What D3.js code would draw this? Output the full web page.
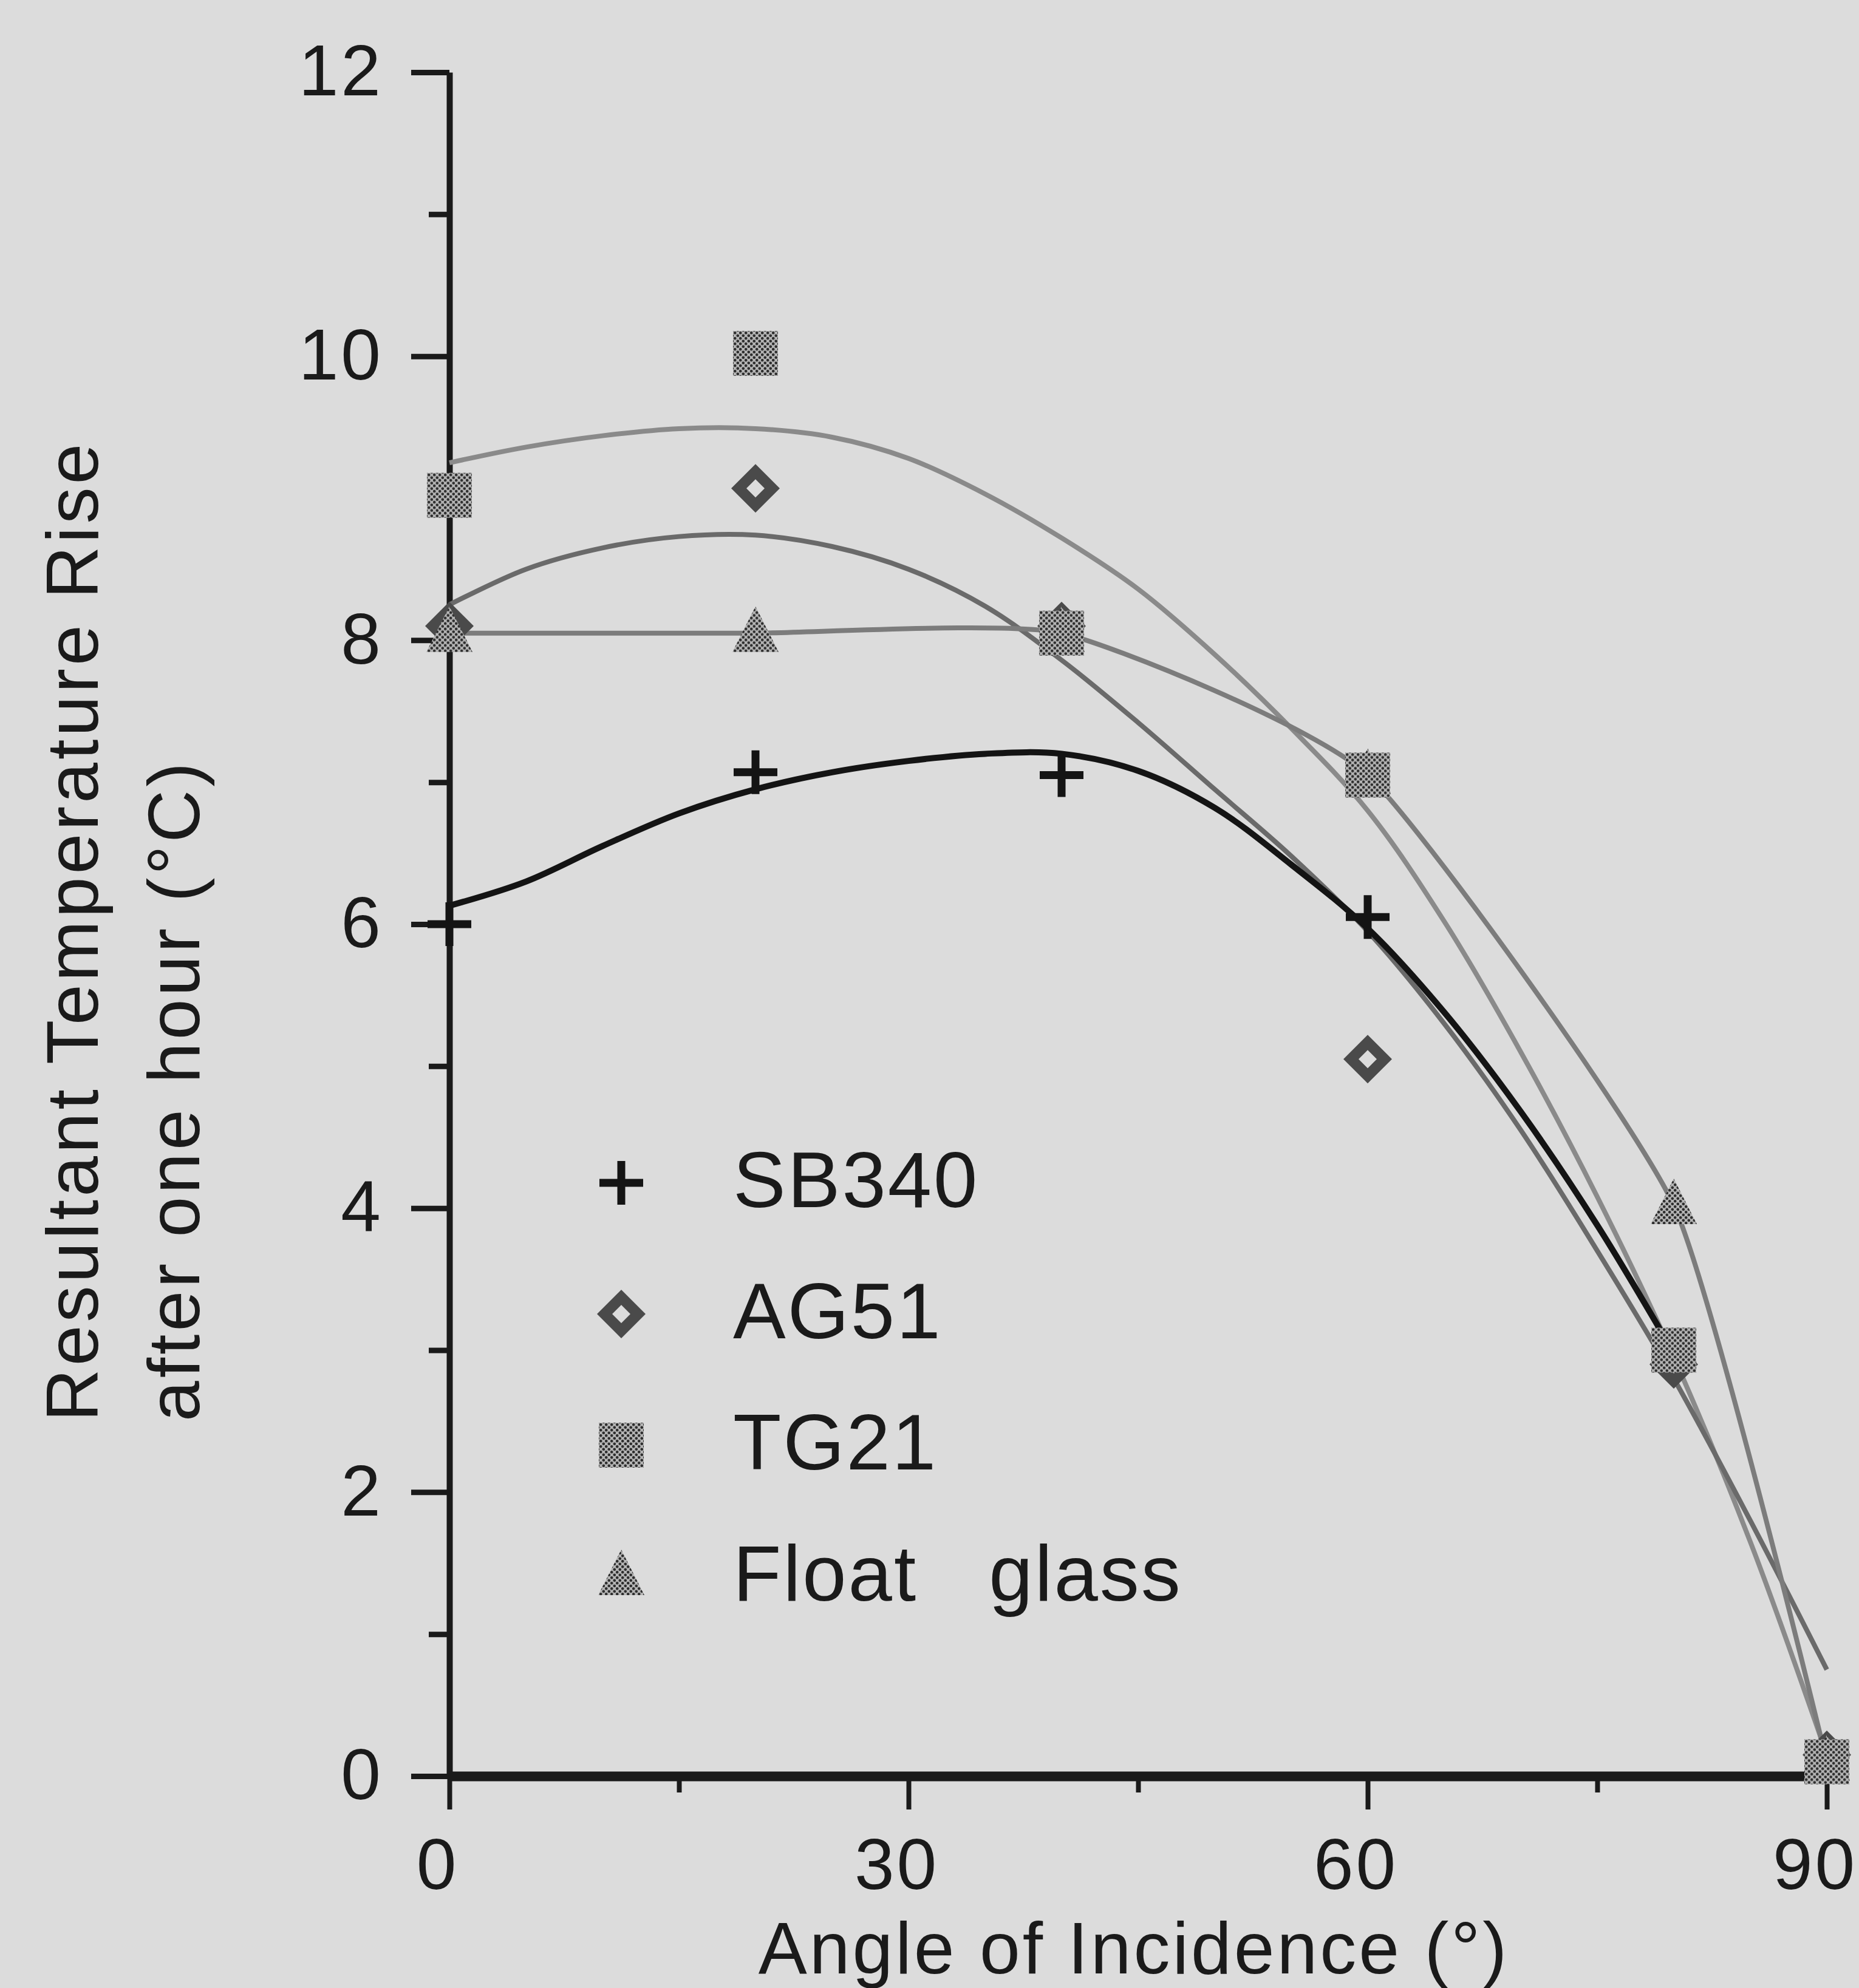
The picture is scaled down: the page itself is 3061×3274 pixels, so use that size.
<!DOCTYPE html>
<html lang="en">

<head>
  <meta charset="UTF-8">
  <title>Resultant Temperature Rise vs Angle of Incidence</title>
  <script src="https://d3js.org/d3.v7.min.js"></script>
  <style>
    body {
      margin: 0;
      background: #dcdcdc;
    }

    svg {
      display: block;
      font-family: Helvetica, Arial, "Liberation Sans", sans-serif;
    }

    .axis .tick text {
      font-size: 118px;
      letter-spacing: 4px;
    }

    .title {
      font-size: 120px;
      fill: #1a1a1a;
    }

    .legend text {
      font-size: 130px;
      letter-spacing: 3px;
      fill: #1a1a1a;
      white-space: pre;
    }
  </style>
</head>

<body>
  <div id="chart"></div>

  <script>
    // Measured points (angle in degrees, rise in °C)
    const angles = [0, 20, 40, 60, 80, 90];
    const sb340 = [6.0, 7.07, 7.05, 6.05, 3.0, null];
    const ag51 = [8.1, 9.07, 8.1, 5.05, 2.9, 0.15];
    const tg21 = [9.02, 10.02, 8.05, 7.05, 3.0, 0.1];
    const floatGlass = [8.05, 8.05, 8.05, 7.05, 4.02, 0.1];

    // Fitted curves every 5 degrees
    const fitAngles = [0, 5, 10, 15, 20, 25, 30, 35, 40, 45, 50, 55, 60, 65, 70, 75, 80, 85, 90];
    const sb340Fit = [6.13, 6.3, 6.55, 6.78, 6.95, 7.07, 7.15, 7.2, 7.2, 7.08, 6.82, 6.42, 5.97, 5.38, 4.68, 3.88, 2.98];
    const ag51Fit = [8.25, 8.5, 8.65, 8.73, 8.74, 8.66, 8.5, 8.24, 7.86, 7.42, 6.95, 6.48, 5.95, 5.3, 4.55, 3.7, 2.8, 1.8, 0.75];
    const tg21Fit = [9.25, 9.36, 9.44, 9.49, 9.49, 9.43, 9.28, 9.03, 8.72, 8.36, 7.9, 7.38, 6.8, 6.02, 5.1, 4.08, 2.95, 1.65, 0.15];

    const xTicks = [0, 15, 30, 45, 60, 75, 90];
    const yTicks = d3.range(0, 13, 1);
    const legendNames = ["SB340", "AG51", "TG21", "Float   glass"];

    const width = 3061;
    const height = 3274;

    const svg = d3.select("#chart")
      .append("svg")
      .attr("width", width)
      .attr("height", height);

    // dithered fill like the scanned markers
    const defs = svg.append("defs");
    const pat = defs.append("pattern")
      .attr("id", "dots")
      .attr("patternUnits", "userSpaceOnUse")
      .attr("width", 9)
      .attr("height", 9);
    pat.append("rect").attr("width", 9).attr("height", 9).attr("fill", "#b4b4b4");
    pat.append("circle").attr("cx", 2.25).attr("cy", 2.25).attr("r", 2.3).attr("fill", "#2e2e2e");
    pat.append("circle").attr("cx", 6.75).attr("cy", 6.75).attr("r", 2.3).attr("fill", "#2e2e2e");

    const x = d3.scaleLinear().domain([0, 90]).range([740, 3008]);
    const y = d3.scaleLinear().domain([0, 12]).range([2925, 119]);

    // Axes
    const yAxis = svg.append("g")
      .attr("class", "axis")
      .attr("transform", `translate(${x(0)},0)`)
      .call(d3.axisLeft(y)
        .tickValues(yTicks)
        .tickSize(63)
        .tickSizeOuter(0)
        .tickPadding(46)
        .tickFormat(d => d % 2 === 0 ? d : ""));
    yAxis.style("color", "#1a1a1a");
    yAxis.select(".domain").attr("stroke-width", 10);
    yAxis.selectAll(".tick line")
      .attr("stroke-width", 9)
      .attr("x2", d => d % 2 === 0 ? -63 : -34);

    const xAxis = svg.append("g")
      .attr("class", "axis")
      .attr("transform", `translate(0,${y(0)})`)
      .call(d3.axisBottom(x)
        .tickValues(xTicks)
        .tickSize(55)
        .tickSizeOuter(0)
        .tickPadding(47)
        .tickFormat(d => d % 30 === 0 ? d : ""));
    xAxis.style("color", "#1a1a1a");
    xAxis.select(".domain").attr("stroke-width", 16);
    xAxis.selectAll(".tick line")
      .attr("stroke-width", 8)
      .attr("y2", d => d % 30 === 0 ? 55 : 27);
    xAxis.selectAll(".tick text").attr("dx", -20);

    // Axis titles
    svg.append("text")
      .attr("class", "title")
      .attr("x", 1867)
      .attr("y", 3250)
      .attr("text-anchor", "middle")
      .style("letter-spacing", "4px")
      .text("Angle of Incidence (°)");

    svg.append("text")
      .attr("class", "title")
      .attr("transform", "translate(161,2341) rotate(-90)")
      .style("letter-spacing", "5px")
      .text("Resultant Temperature Rise");

    svg.append("text")
      .attr("class", "title")
      .attr("transform", "translate(328,2341) rotate(-90)")
      .style("letter-spacing", "5px")
      .text("after one hour (°C)");

    // Curves
    const fitLine = d3.line()
      .x((d, i) => x(fitAngles[i]))
      .y(d => y(d))
      .curve(d3.curveCatmullRom);

    const pointLine = d3.line()
      .x((d, i) => x(angles[i]))
      .y(d => y(d))
      .curve(d3.curveCardinal.tension(0.5));

    svg.append("path")
      .attr("d", fitLine(tg21Fit))
      .attr("fill", "none")
      .attr("stroke", "#8a8a8a")
      .attr("stroke-width", 8);

    svg.append("path")
      .attr("d", fitLine(ag51Fit))
      .attr("fill", "none")
      .attr("stroke", "#6a6a6a")
      .attr("stroke-width", 8);

    svg.append("path")
      .attr("d", pointLine(floatGlass))
      .attr("fill", "none")
      .attr("stroke", "#7c7c7c")
      .attr("stroke-width", 8);

    svg.append("path")
      .attr("d", fitLine(sb340Fit))
      .attr("fill", "none")
      .attr("stroke", "#141414")
      .attr("stroke-width", 10);

    // Marker shapes
    const shapes = {
      plus: "M-36,0H36M0,-36V36",
      diamond: "M0,-40L40,0L0,40L-40,0ZM0,-15L-15,0L0,15L15,0Z",
      square: "M-37,-37H37V37H-37Z",
      triangle: "M0,-44L38,31L-38,31Z"
    };

    function drawShape(g, shape) {
      const p = g.append("path").attr("d", shapes[shape]);
      if (shape === "plus") {
        p.attr("fill", "none").attr("stroke", "#141414").attr("stroke-width", 13);
      } else if (shape === "diamond") {
        p.attr("fill", "#4a4a4a").attr("fill-rule", "evenodd");
      } else {
        p.attr("fill", "url(#dots)");
      }
    }

    const seriesList = [
      { values: sb340, shape: "plus" },
      { values: ag51, shape: "diamond" },
      { values: tg21, shape: "square" },
      { values: floatGlass, shape: "triangle" }
    ];

    seriesList.forEach(s => {
      const pts = s.values
        .map((v, i) => ({ a: angles[i], v: v }))
        .filter(d => d.v !== null);
      pts.forEach(d => {
        const g = svg.append("g")
          .attr("transform", `translate(${x(d.a)},${y(d.v)})`);
        drawShape(g, s.shape);
      });
    });

    // Legend
    const legend = svg.append("g").attr("class", "legend");
    seriesList.forEach((s, i) => {
      const base = 1988 + i * 216;
      const g = legend.append("g")
        .attr("transform", `translate(1023,${base - 40})`);
      drawShape(g, s.shape);
      legend.append("text")
        .attr("x", 1207)
        .attr("y", base)
        .text(legendNames[i]);
    });
  </script>
</body>

</html>
